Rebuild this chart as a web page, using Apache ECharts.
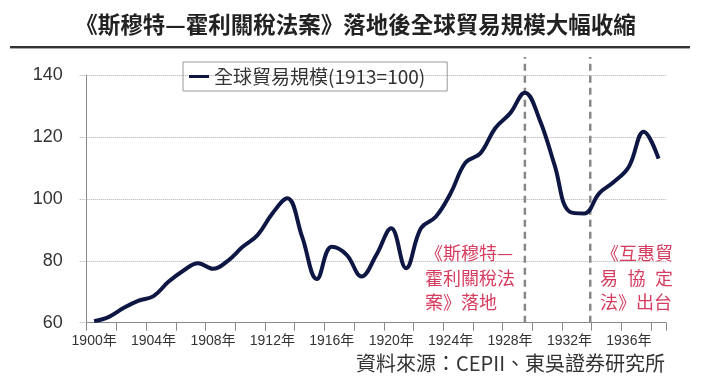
<!DOCTYPE html>
<html><head><meta charset="utf-8">
<script src="https://cdn.jsdelivr.net/npm/echarts@6/dist/echarts.min.js"></script>
<style>html,body{margin:0;padding:0;background:#fff}#c{width:711px;height:380px}</style>
</head><body><div id="c"></div>
<script>
const years = ['1900','1901','1902','1903','1904','1905','1906','1907','1908','1909','1910','1911','1912','1913','1914','1915','1916','1917','1918','1919','1920','1921','1922','1923','1924','1925','1926','1927','1928','1929','1930','1931','1932','1933','1934','1935','1936','1937','1938'];
const tradeVolume = [60.5,61.9,64.8,67.1,68.6,73.2,76.8,79.2,77.4,80.0,84.5,88.3,95.3,100.2,87.8,74.1,84.5,81.9,74.9,81.9,90.5,77.6,90.5,94.2,101.8,111.7,114.7,122.8,127.6,134.3,125.5,110.9,95.9,95.3,101.8,105.5,110.4,121.7,113.0];
const eventPositions = [29.5, 33.9]; // category-index positions of the dashed markers
const yTicks = {min: 60, max: 140, interval: 20};
const seriesName = '全球貿易規模(1913=100)';
const titleText = '《斯穆特—霍利關稅法案》落地後全球貿易規模大幅收縮';
const sourceText = '資料來源：CEPII、東吳證券研究所';

const chart = echarts.init(document.getElementById('c'));
const red = '#d63c5e';
const annFont = 'normal 18px "Noto Sans CJK TC", sans-serif';
function t(x, y, s, align) {
  return {type:'text', x:x, y:y, style:{text:s, fill:red, font:annFont, textAlign:align||'left', textVerticalAlign:'middle'}};
}
const option = {
  animation: false,
  textStyle: {fontFamily: '"Liberation Sans", "Noto Sans CJK TC", sans-serif'},
  title: {
    text: titleText, left: 'center', top: 8,
    textStyle: {fontFamily: '"Noto Sans CJK TC", sans-serif', fontSize: 22.5, fontWeight: 'bold', color: '#222'}
  },
  legend: {
    data: [seriesName], left: 183, top: 62,
    padding: [5, 22, 5, 6],
    borderColor: '#999', borderWidth: 1,
    itemWidth: 20, itemHeight: 3, icon: 'rect',
    textStyle: {fontSize: 19, color: '#333', fontFamily: '"Noto Sans CJK TC", sans-serif'}
  },
  grid: [
    {left: 86.7, right: 45, top: 75, bottom: 57.3},
    {left: 86.7, right: 45, top: 57, bottom: 57.3}
  ],
  xAxis: [{
    type: 'category', data: years, boundaryGap: true, gridIndex: 0,
    axisLine: {lineStyle: {color: '#888', width: 1}},
    axisTick: {show: true, interval: 1, length: 8, lineStyle: {color: '#888'}},
    axisLabel: {interval: 3, formatter: v => v + '年', fontSize: 14, color: '#333', margin: 11,
      fontFamily: '"Liberation Sans", "Noto Sans CJK TC", sans-serif'},
    splitLine: {show: false}
  }, {
    type: 'value', gridIndex: 1, min: 0, max: years.length, show: false
  }],
  yAxis: [{
    type: 'value', gridIndex: 0, min: yTicks.min, max: yTicks.max, interval: yTicks.interval,
    axisLine: {show: true, lineStyle: {color: '#888', width: 1}},
    axisTick: {show: true, length: 8, lineStyle: {color: '#aaa', type: 'dotted'}},
    axisLabel: {fontSize: 18, color: '#333', margin: 24},
    splitLine: {lineStyle: {color: '#aaa', type: 'dotted', width: 1}}
  }, {
    type: 'value', gridIndex: 1, min: 0, max: 1, show: false
  }],
  series: [
    ...eventPositions.map(p => ({
      type: 'line', xAxisIndex: 1, yAxisIndex: 1, z: 1, silent: true, symbol: 'none',
      data: [[p, 0], [p, 1]],
      lineStyle: {color: '#888', width: 2.5, type: [7, 5]}
    })),
    {
      name: seriesName, type: 'line', data: tradeVolume, smooth: 0.4, symbol: 'none', z: 5,
      lineStyle: {color: '#0e1744', width: 4}, itemStyle: {color: '#0e1744'}
    }
  ],
  graphic: [
    {type: 'rect', shape: {x: 10, y: 46, width: 680, height: 2}, style: {fill: '#333'}},
    {type: 'rect', shape: {x: 10, y: 48, width: 680, height: 1}, style: {fill: '#aaa'}},
    {type: 'text', x: 665, y: 363, style: {text: sourceText, fill: '#333', font: 'normal 20px "Noto Sans CJK TC", sans-serif', textAlign: 'right', textVerticalAlign: 'middle'}},
    t(425, 253, '《斯穆特—'), t(425, 278, '霍利關稅法'), t(425, 302, '案》落地'),
    t(601, 253, '《互惠貿'), t(600, 278, '易'), t(636.5, 278, '協', 'center'), t(673, 278, '定', 'right'), t(600, 302, '法》出台')
  ]
};
chart.setOption(option);
</script></body></html>
